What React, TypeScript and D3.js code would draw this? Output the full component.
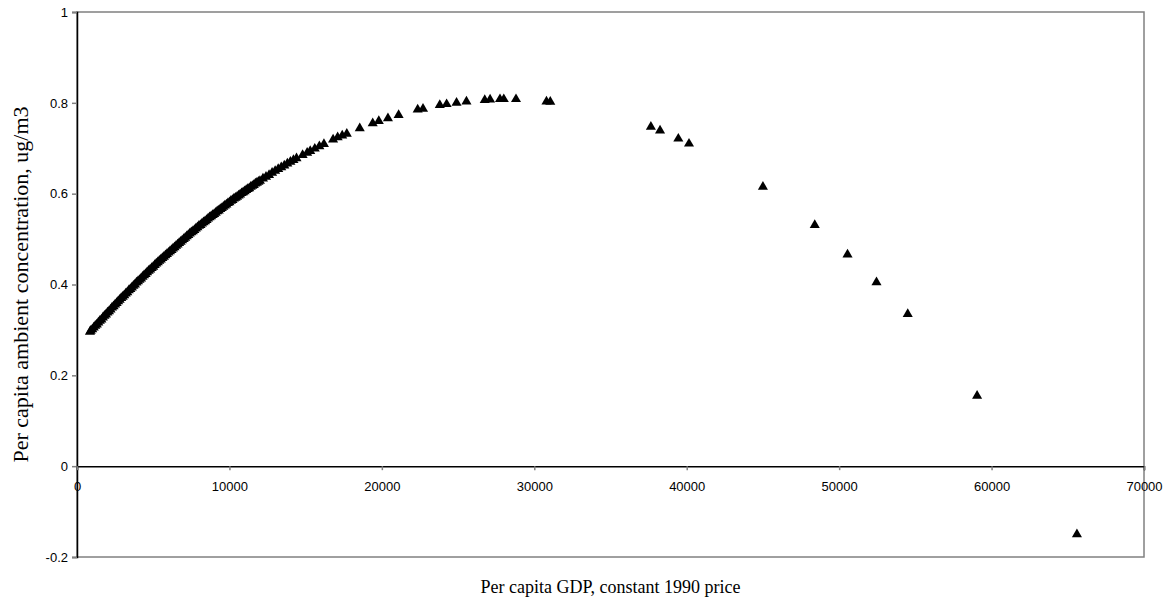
import React, { useEffect, useRef } from "react";
import * as d3 from "d3";

// per capita GDP (constant 1990 price) and modelled concentration
const gdp = [
  850, 900, 1000, 1100, 1200, 1300, 1400, 1500, 1600, 1700, 1800, 1900, 2000, 2100, 2200,
  2300, 2400, 2500, 2600, 2700, 2800, 2900, 3000, 3100, 3200, 3300, 3400, 3500, 3600, 3700,
  3800, 3900, 4000, 4100, 4200, 4300, 4400, 4500, 4600, 4700, 4800, 4900, 5000, 5100, 5200,
  5300, 5400, 5500, 5600, 5700, 5800, 5900, 6000, 6100, 6200, 6300, 6400, 6500, 6600, 6700,
  6800, 6900, 7000, 7100, 7200, 7300, 7400, 7500, 7600, 7700, 7800, 7900, 8000, 8100, 8200,
  8300, 8400, 8500, 8600, 8700, 8800, 8900, 9000, 9100, 9200, 9300, 9400, 9500, 9600, 9700,
  9800, 9900, 10000, 10100, 10200, 10300, 10400, 10500, 10600, 10700, 10800, 10900, 11000,
  11100, 11200, 11300, 11400, 11500, 11600, 11700, 11800, 11900, 12000, 12200, 12400, 12600,
  12800, 13000, 13200, 13400, 13600, 13800, 14000, 14200, 14400,
  14800, 15100, 15300, 15600, 15900, 16200, 16800, 17100, 17400, 17700, 18550, 19400, 19800,
  20400, 21100, 22350, 22700, 23800, 24250, 24900, 25550, 26750, 27100, 27750, 28000, 28800,
  30800, 31050, 37650, 38250, 39450, 40150, 45000, 48400, 50550, 52450, 54500, 59050, 65600,
];

const concentration = [
  0.296, 0.298, 0.301, 0.305, 0.309, 0.312, 0.316, 0.32, 0.323, 0.327, 0.331, 0.334, 0.338, 0.341, 0.345,
  0.349, 0.352, 0.356, 0.359, 0.363, 0.366, 0.37, 0.373, 0.376, 0.38, 0.383, 0.387, 0.39, 0.393, 0.397,
  0.4, 0.404, 0.407, 0.41, 0.413, 0.417, 0.42, 0.423, 0.427, 0.43, 0.433, 0.436, 0.439, 0.443, 0.446,
  0.449, 0.452, 0.455, 0.458, 0.461, 0.464, 0.467, 0.47, 0.473, 0.476, 0.479, 0.482, 0.485, 0.488, 0.491,
  0.494, 0.497, 0.5, 0.503, 0.506, 0.509, 0.512, 0.515, 0.517, 0.52, 0.523, 0.526, 0.529, 0.531, 0.534,
  0.537, 0.539, 0.542, 0.545, 0.548, 0.55, 0.553, 0.555, 0.558, 0.561, 0.563, 0.566, 0.568, 0.571, 0.574,
  0.576, 0.579, 0.581, 0.584, 0.586, 0.589, 0.591, 0.593, 0.596, 0.598, 0.601, 0.603, 0.605,
  0.608, 0.61, 0.612, 0.615, 0.617, 0.619, 0.622, 0.624, 0.626, 0.628, 0.633, 0.637, 0.641,
  0.646, 0.65, 0.654, 0.658, 0.662, 0.666, 0.67, 0.674, 0.678,
  0.685, 0.69, 0.694, 0.699, 0.704, 0.709, 0.719, 0.724, 0.728, 0.732, 0.744, 0.755, 0.76,
  0.766, 0.773, 0.785, 0.787, 0.795, 0.797, 0.8, 0.803, 0.806, 0.807, 0.808, 0.808, 0.808,
  0.803, 0.802, 0.747, 0.739, 0.721, 0.71, 0.615, 0.531, 0.466, 0.405, 0.335, 0.155, -0.15,
];

const xTicks = [0, 10000, 20000, 30000, 40000, 50000, 60000, 70000];
const yTicks = [-0.2, 0, 0.2, 0.4, 0.6, 0.8, 1];

const xTitle = "Per capita GDP, constant 1990 price";
const yTitle = "Per capita ambient concentration, ug/m3";

const App = () => {
  const ref = useRef(null);

  useEffect(() => {
    const width = 1176;
    const height = 606;
    const margin = { top: 12, right: 32, bottom: 49, left: 77 };

    const svg = d3.select(ref.current)
      .attr("width", width)
      .attr("height", height)
      .style("position", "absolute")
      .style("left", "0px")
      .style("top", "0px")
      .style("background", "#fff");

    svg.selectAll("*").remove();

    const x = d3.scaleLinear().domain([0, 70000]).range([margin.left, width - margin.right]);
    const y = d3.scaleLinear().domain([-0.2, 1]).range([height - margin.bottom, margin.top]);

    const sans = "'Liberation Sans', Arial, sans-serif";
    const serif = "'Liberation Serif', 'Times New Roman', serif";
    const grey = "#808080";

    // plot frame (grey on top/right/bottom)
    svg.append("rect")
      .attr("x", x(0))
      .attr("y", y(1))
      .attr("width", x(70000) - x(0))
      .attr("height", y(-0.2) - y(1))
      .attr("fill", "none")
      .attr("stroke", grey)
      .attr("stroke-width", 1.5);

    // y axis
    const yAxis = svg.append("g")
      .attr("transform", `translate(${x(0)},0)`)
      .call(d3.axisLeft(y).tickValues(yTicks).tickSize(5).tickPadding(4)
        .tickFormat(d => String(+(+d).toFixed(1))));
    yAxis.select(".domain").attr("stroke", "#000").attr("stroke-width", 1.5);
    yAxis.selectAll(".tick line").attr("stroke", grey).attr("stroke-width", 1.5);
    yAxis.selectAll(".tick text")
      .style("font-family", sans)
      .style("font-size", "13px")
      .attr("fill", "#000");

    // x axis sits on y = 0
    const xAxis = svg.append("g")
      .attr("transform", `translate(0,${y(0)})`)
      .call(d3.axisBottom(x).tickValues(xTicks).tickSize(4).tickPadding(12).tickFormat(d3.format("d")));
    xAxis.select(".domain").attr("stroke", "#000").attr("stroke-width", 1.5);
    xAxis.selectAll(".tick line").attr("stroke", grey).attr("stroke-width", 1.5);
    xAxis.selectAll(".tick text")
      .style("font-family", sans)
      .style("font-size", "13px")
      .attr("fill", "#000");

    // triangles
    const tri = d3.symbol().type(d3.symbolTriangle).size(44);
    svg.append("g")
      .selectAll("path")
      .data(gdp.map((g, i) => [g, concentration[i]]))
      .enter().append("path")
      .attr("transform", d => `translate(${x(d[0])},${y(d[1])})`)
      .attr("d", tri)
      .attr("fill", "#000");

    svg.append("text")
      .attr("x", (x(0) + x(70000)) / 2)
      .attr("y", 593)
      .attr("text-anchor", "middle")
      .style("font-family", serif)
      .style("font-size", "18px")
      .text(xTitle);

    svg.append("text")
      .attr("transform", `translate(28,${(y(1) + y(-0.2)) / 2}) rotate(-90)`)
      .attr("text-anchor", "middle")
      .style("font-family", serif)
      .style("font-size", "22px")
      .text(yTitle);
  }, []);

  return (
    <div style={{ width: "100%", height: "100%" }}>
      <svg ref={ref}></svg>
    </div>
  );
};

export default App;
